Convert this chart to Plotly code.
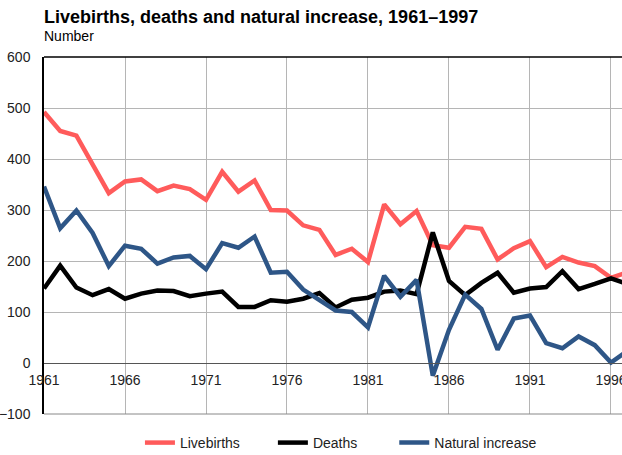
import plotly.graph_objects as go

years = list(range(1961, 1998))
livebirths = [492, 455, 446, 388, 333, 356, 360, 337, 348, 341, 320, 375, 336, 358, 300,
              299, 270, 261, 212, 224, 198, 311, 272, 298, 231, 226, 267, 263, 203, 225,
              239, 188, 208, 197, 190, 167, 178]
deaths = [146, 191, 148, 133, 145, 126, 136, 142, 141, 131, 136, 140, 110, 110, 123,
          120, 126, 137, 109, 124, 128, 140, 142, 135, 256, 161, 133, 157, 177, 138,
          146, 149, 180, 145, 155, 166, 155]
natural_increase = [346, 264, 299, 255, 190, 230, 224, 195, 207, 210, 184, 235, 226, 248, 177,
                    179, 144, 124, 103, 100, 70, 171, 130, 163, -25, 65, 134, 106, 26, 87,
                    93, 39, 29, 52, 35, 1, 23]
x_ticks = [1961, 1966, 1971, 1976, 1981, 1986, 1991, 1996]
y_ticks = [-100, 0, 100, 200, 300, 400, 500, 600]

FONT = "Liberation Sans, Arial, sans-serif"

series = [("Livebirths", livebirths, "#ff5b5b", "legend", 0.166),
          ("Deaths", deaths, "#000000", "legend2", 0.396),
          ("Natural increase", natural_increase, "#2e5687", "legend3", 0.606)]

fig = go.Figure()
legends = {}
for name, vals, col, lg, lx in series:
    fig.add_trace(go.Scatter(x=years, y=vals, mode="lines", name=name, legend=lg,
                             line=dict(color=col, width=4.5)))
    legends[lg] = dict(orientation="h", x=lx, xanchor="left",
                       yref="container", y=0.0264, yanchor="middle",
                       font=dict(size=14, color="#222222", family=FONT), itemwidth=30,
                       bgcolor="rgba(0,0,0,0)")

fig.update_layout(
    width=622, height=455,
    margin=dict(l=44, r=0, t=57, b=41, autoexpand=False),
    plot_bgcolor="white", paper_bgcolor="white",
    font=dict(family=FONT, size=14, color="#222222"),
    showlegend=True,
    **legends,
    xaxis=dict(range=[1961, 1996.68], tickvals=x_ticks, ticktext=[str(v) for v in x_ticks],
               showgrid=True, gridcolor="#b5b5b5", gridwidth=1, automargin=False,
               ticklabeloverflow="allow",
               anchor="free", position=1/7, showline=True, linecolor="#555555", linewidth=1,
               ticks="outside", ticklen=4, tickcolor="rgba(0,0,0,0)", zeroline=False),
    yaxis=dict(range=[-100, 600], tickvals=y_ticks, showgrid=True, gridcolor="#b5b5b5",
               gridwidth=1, showline=True, linecolor="#000000", linewidth=1.5,
               automargin=False,
               ticks="outside", ticklen=9, tickcolor="rgba(0,0,0,0)", zeroline=False),
    shapes=[dict(type="line", xref="paper", yref="paper", x0=0, x1=1, y0=1, y1=1,
                 line=dict(color="#000000", width=1.5)),
            dict(type="line", xref="paper", yref="paper", x0=0, x1=1, y0=0, y1=0,
                 line=dict(color="#888888", width=1))],
    annotations=[
        dict(text="<b>Livebirths, deaths and natural increase, 1961\u20131997</b>",
             xref="paper", yref="paper", x=0, y=1, xanchor="left", yanchor="bottom",
             yshift=28, xshift=-2, showarrow=False,
             font=dict(size=18, color="#000000", family=FONT)),
        dict(text="Number", xref="paper", yref="paper", x=0, y=1, xanchor="left",
             yanchor="bottom", yshift=11, xshift=-2, showarrow=False,
             font=dict(size=14, color="#000000", family=FONT)),
    ],
)

fig.write_html("out.html", config={"displayModeBar": False},
               post_script="document.body.style.margin='0';")
